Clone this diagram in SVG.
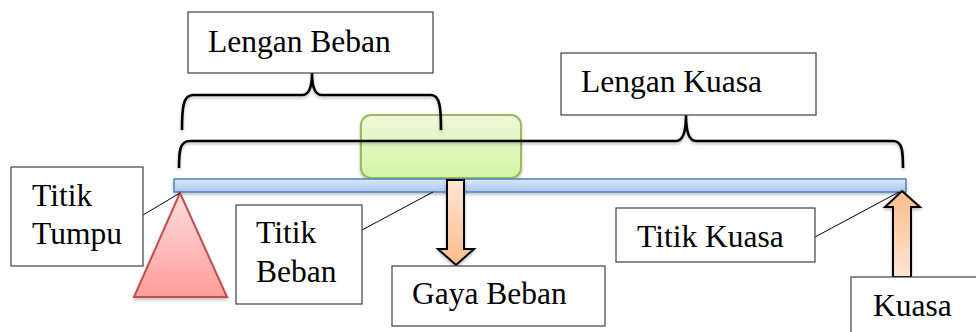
<svg xmlns="http://www.w3.org/2000/svg" width="976" height="332" viewBox="0 0 976 332">
<defs>
<linearGradient id="gBeam" x1="0" y1="0" x2="0" y2="1"><stop offset="0" stop-color="#dce9fb"/><stop offset="1" stop-color="#a9c5f0"/></linearGradient>
<linearGradient id="gTri" x1="0" y1="0" x2="0" y2="1"><stop offset="0" stop-color="#ffdede"/><stop offset="1" stop-color="#ff9c9c"/></linearGradient>
<linearGradient id="gGreen" x1="0" y1="0" x2="0" y2="1"><stop offset="0" stop-color="#edf9da"/><stop offset="1" stop-color="#d6f5a3"/></linearGradient>
<linearGradient id="gDown" x1="0" y1="0" x2="0" y2="1"><stop offset="0" stop-color="#fee6d5"/><stop offset="1" stop-color="#fbbd8a"/></linearGradient>
<linearGradient id="gUp" x1="0" y1="1" x2="0" y2="0"><stop offset="0" stop-color="#fee6d5"/><stop offset="1" stop-color="#fbbd8a"/></linearGradient>
<filter id="sh" x="-10%" y="-20%" width="120%" height="160%"><feDropShadow dx="0" dy="2" stdDeviation="1.5" flood-color="#000" flood-opacity="0.25"/></filter>
</defs>
<style>
.box{fill:#fff;stroke:#404040;stroke-width:1.2}
.t{font-family:"Liberation Serif","Times New Roman",serif;font-size:31.5px;fill:#000}
.brace{fill:none;stroke:#000;stroke-width:2.6;filter:url(#sh)}
.lead{fill:none;stroke:#000;stroke-width:1}
.arrow{stroke:#000;stroke-width:2;stroke-linejoin:miter;filter:url(#sh)}
</style>

<g id="green-load">
<rect x="361" y="115" width="160" height="63" rx="10" ry="10" fill="url(#gGreen)" stroke="#9bbb59" stroke-width="2" filter="url(#sh)"/>
</g>

<g id="beam">
<rect x="174" y="179" width="732" height="13" fill="url(#gBeam)" stroke="#4f81bd" stroke-width="1.5" filter="url(#sh)"/>
</g>

<g id="fulcrum">
<polygon points="180,193 134,297 227,297" fill="url(#gTri)" stroke="#c0504d" stroke-width="2" filter="url(#sh)"/>
</g>

<g id="arrow-gaya-beban">
<polygon class="arrow" fill="url(#gDown)" points="447,180 464,180 464,249 474,249 456,265 438,249 447,249"/>
</g>

<g id="arrow-kuasa">
<polygon class="arrow" fill="url(#gUp)" points="902,191 920,207 911,207 911,277 893,277 893,207 885,207"/>
</g>

<g id="connectors">
<path class="brace" d="M182,130 C182,108 183,95 193,95 L302,95 C309,95 312,88 312,73 C312,88 315,95 322,95 L431,95 C440,95 441,108 441,130"/>
<path class="brace" d="M179,168 C179,150 180,141 190,141 L676,141 C683,141 686,133 686,115 C686,133 689,141 696,141 L893,141 C902,141 903,150 903,168"/>
<line class="lead" x1="143" y1="215" x2="180" y2="193"/>
<line class="lead" x1="362" y1="230" x2="433" y2="192"/>
<line class="lead" x1="815" y1="237" x2="899" y2="192"/>
</g>

<g id="lengan-beban">
<rect class="box" x="188" y="12" width="245" height="61"/>
<text class="t" x="208" y="52">Lengan Beban</text>
</g>

<g id="lengan-kuasa">
<rect class="box" x="561" y="53" width="255" height="62"/>
<text class="t" x="581" y="92">Lengan Kuasa</text>
</g>

<g id="titik-tumpu">
<rect class="box" x="11" y="167" width="132" height="99"/>
<text class="t" x="32" y="206">Titik</text>
<text class="t" x="32" y="244">Tumpu</text>
</g>

<g id="titik-beban">
<rect class="box" x="236" y="205" width="126" height="99"/>
<text class="t" x="256" y="243">Titik</text>
<text class="t" x="256" y="282">Beban</text>
</g>

<g id="gaya-beban">
<rect class="box" x="392" y="266" width="213" height="60"/>
<text class="t" x="412" y="304">Gaya Beban</text>
</g>

<g id="titik-kuasa">
<rect class="box" x="616" y="208" width="199" height="54"/>
<text class="t" x="637" y="247">Titik Kuasa</text>
</g>

<g id="kuasa">
<rect class="box" x="851" y="277" width="135" height="70"/>
<text class="t" x="873" y="316">Kuasa</text>
</g>
</svg>
